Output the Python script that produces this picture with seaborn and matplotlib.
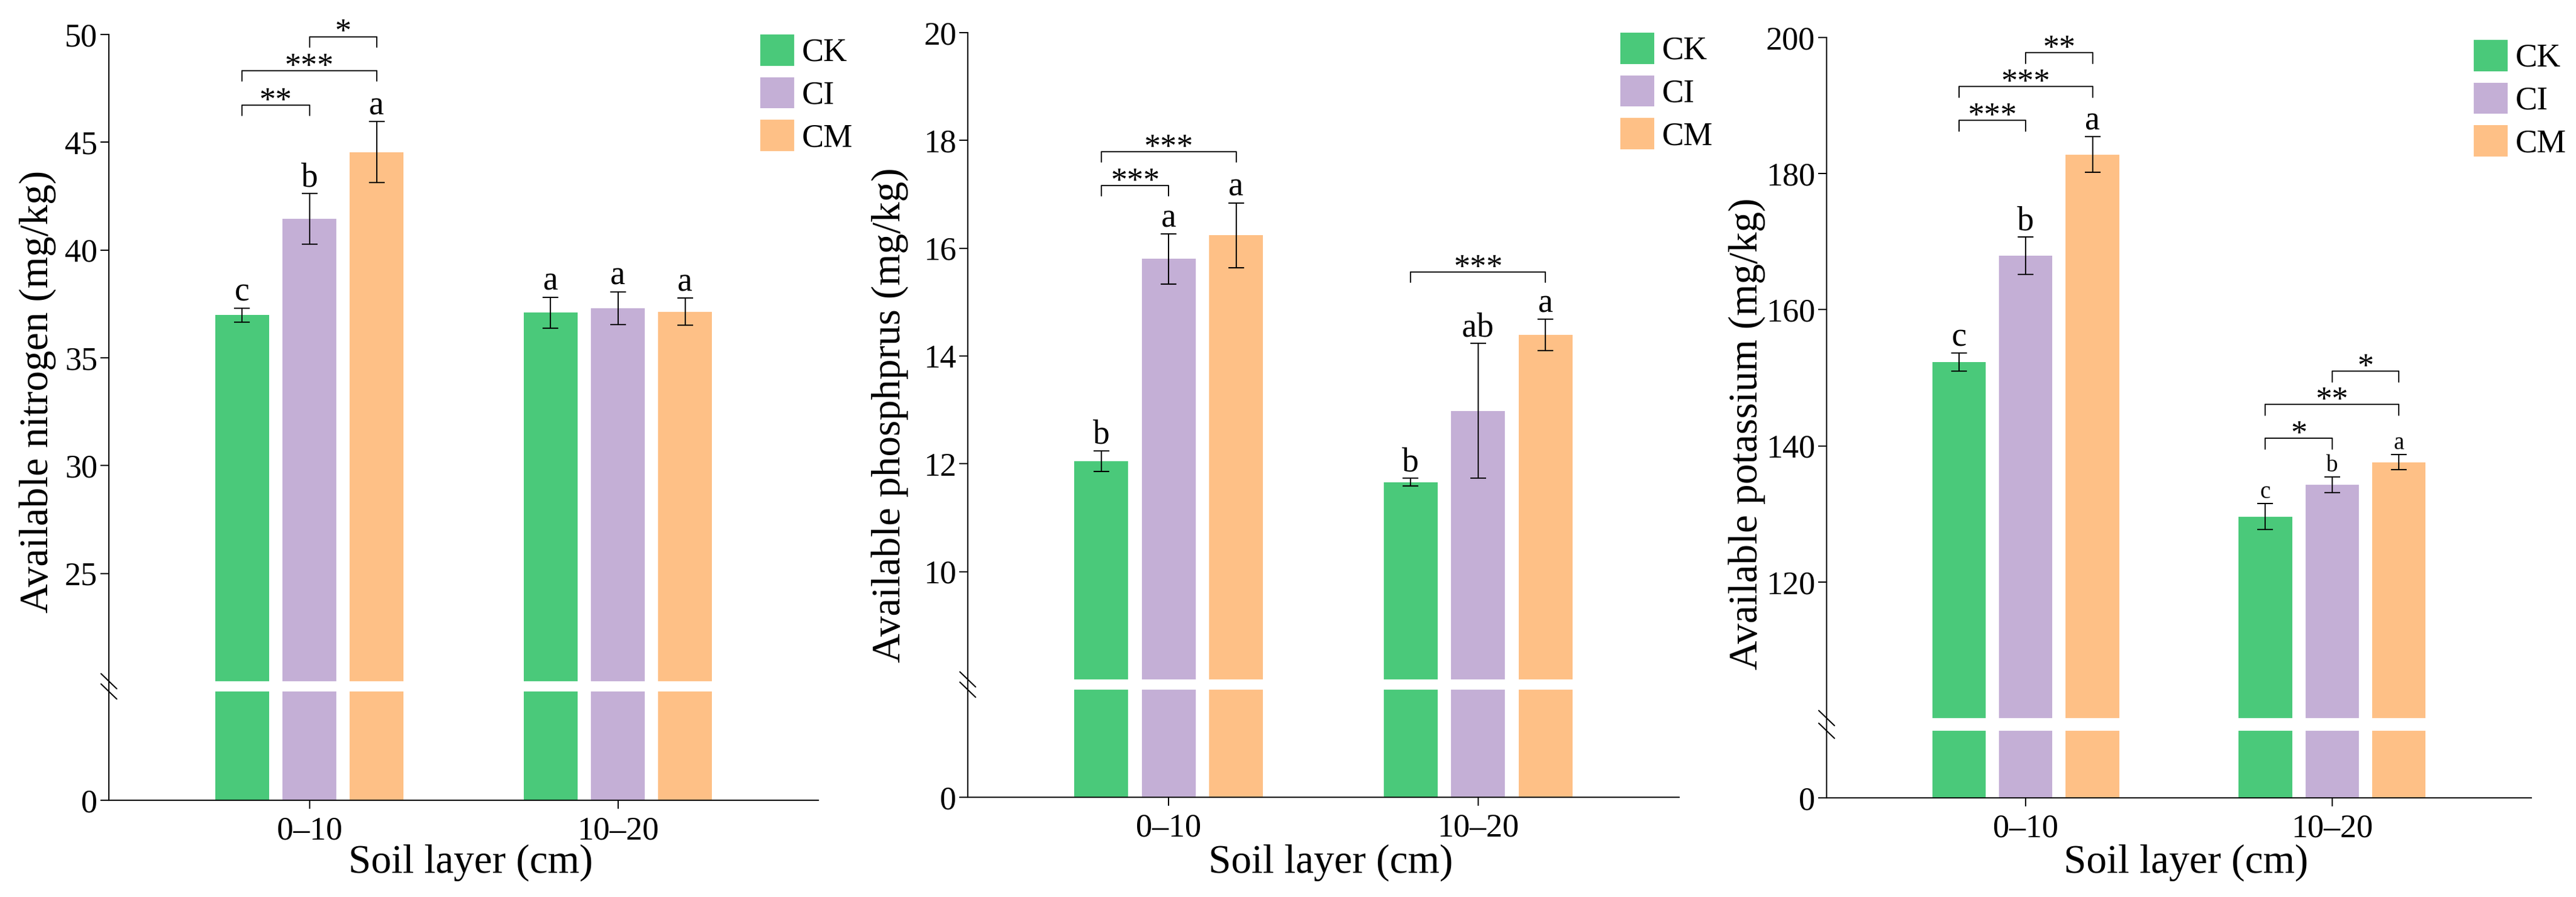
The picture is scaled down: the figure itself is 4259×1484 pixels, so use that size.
import numpy as np
import pandas as pd
import seaborn as sns
import matplotlib.pyplot as plt
from matplotlib.patches import Patch

# ---------------------------
# Global settings
# ---------------------------
sns.set_style("ticks")
plt.rcParams["font.family"] = ["Liberation Serif", "DejaVu Serif"]
plt.rcParams.update({
    "axes.edgecolor": "black", "axes.labelcolor": "black", "text.color": "black",
    "xtick.color": "black", "ytick.color": "black", "axes.linewidth": 1.5,
    "xtick.major.width": 1.5, "ytick.major.width": 1.5,
    "xtick.major.size": 10, "ytick.major.size": 10,
})

# ---------------------------
# Data
# ---------------------------
layers = ["0–10", "10–20"]
treatments = ["CK", "CI", "CM"]
colors = ["#4AC97A", "#C4AFD6", "#FEC086"]

# means / sd ordered: CK, CI, CM for 0–10 then CK, CI, CM for 10–20
n_mean = [36.98, 41.44, 44.54, 37.09, 37.30, 37.14]
n_sd = [0.33, 1.18, 1.42, 0.72, 0.77, 0.63]
n_letters = ["c", "b", "a", "a", "a", "a"]
n_brackets = [(0, 0, 1, 46.72, "**"), (0, 0, 2, 48.32, "***"), (0, 1, 2, 49.9, "*")]

p_mean = [12.05, 15.80, 16.24, 11.66, 12.98, 14.39]
p_sd = [0.19, 0.46, 0.60, 0.07, 1.25, 0.29]
p_letters = ["b", "a", "a", "b", "ab", "a"]
p_brackets = [(0, 0, 1, 17.16, "***"), (0, 0, 2, 17.79, "***"), (1, 0, 2, 15.56, "***")]

k_mean = [152.3, 167.9, 182.8, 129.6, 134.3, 137.6]
k_sd = [1.3, 2.75, 2.6, 1.9, 1.15, 1.1]
k_letters = ["c", "b", "a", "c", "b", "a"]
k_brackets = [(0, 0, 1, 187.8, "***"), (0, 0, 2, 192.8, "***"), (0, 1, 2, 197.75, "**"),
              (1, 0, 1, 141.1, "*"), (1, 0, 2, 146.1, "**"), (1, 1, 2, 151.0, "*")]

W, H = 4259, 1484
fig = plt.figure(figsize=(W / 100, H / 100), dpi=100)


def piecewise(xp, fp):
    xp = np.asarray(xp, float)
    fp = np.asarray(fp, float)

    def f(v):
        v = np.asarray(v, float)
        out = np.interp(v, xp, fp)
        out = np.where(v < xp[0], fp[0] + (v - xp[0]) * (fp[1] - fp[0]) / (xp[1] - xp[0]), out)
        out = np.where(v > xp[-1], fp[-1] + (v - xp[-1]) * (fp[-1] - fp[-2]) / (xp[-1] - xp[-2]), out)
        return out
    return f


def draw_panel(box, gap, hi_bot, top, yticks, mean, sd, letters, brackets, ylabel,
               ylab_pos, leg_xy, letter_sizes):
    left, right, ytop, ybot = box
    ax = fig.add_axes([left / W, 1 - ybot / H, (right - left) / W, (ybot - ytop) / H])

    df = pd.DataFrame({"layer": np.repeat(layers, 3), "treatment": treatments * 2, "value": mean})
    sns.barplot(data=df, x="layer", y="value", hue="treatment", order=layers,
                hue_order=treatments, palette=colors, saturation=1, width=0.654, gap=0.2,
                errorbar=None, legend=False, linewidth=0, ax=ax)
    xs = sorted(p.get_x() + p.get_width() / 2 for p in ax.patches)

    # broken axis via piecewise scale
    lo_val = hi_bot * 0.98
    data_pts = [0, lo_val, hi_bot, top]
    px_pts = [0, ybot - gap[1], ybot - gap[0], ybot - ytop]
    ax.set_yscale("function", functions=(piecewise(data_pts, px_pts), piecewise(px_pts, data_pts)))
    ax.set_ylim(0, top)
    ax.set_xlim(-0.65, 1.65)
    ax.axhspan(lo_val, hi_bot, color="white", zorder=2, lw=0)

    ax.errorbar(xs, mean, yerr=sd, fmt="none", ecolor="black", elinewidth=1.5,
                capsize=9.5, capthick=1.5, zorder=3)
    for x, m, s, lab, fs in zip(xs, mean, sd, letters, letter_sizes):
        ax.text(x, m + s, lab, ha="center", va="bottom", fontsize=fs)

    leg = 0.016 * (top - hi_bot)
    for g, i, j, y, lab in brackets:
        x1, x2 = xs[g * 3 + i], xs[g * 3 + j]
        ax.plot([x1, x1, x2, x2], [y - leg, y, y, y - leg], color="black", lw=1.4)
        ax.annotate(lab, xy=((x1 + x2) / 2, y), xytext=(0, -5.6), textcoords="offset points",
                    ha="center", va="baseline", fontsize=39)

    # break marks on the left spine
    aw, ah = right - left, ybot - ytop
    for gy in gap:
        yf = (ybot - gy) / ah
        ax.plot([-13 / aw, 13 / aw], [yf + 12.5 / ah, yf - 12.5 / ah], transform=ax.transAxes,
                color="black", lw=1.5, clip_on=False)

    sns.despine(ax=ax)
    ax.set_yticks(yticks)
    ax.set_yticklabels([str(t) for t in yticks])
    ax.yaxis.set_minor_locator(plt.NullLocator())
    ax.tick_params(axis="y", labelsize=39, pad=3.5)
    ax.tick_params(axis="x", labelsize=39, pad=9)
    ax.set_xlabel("Soil layer (cm)", fontsize=48.5)
    ax.xaxis.set_label_coords(0.51, -(1396 - ybot) / ah)
    ax.set_ylabel(ylabel, fontsize=48.5)
    ax.yaxis.set_label_coords(ylab_pos[0], ylab_pos[1])

    handles = [Patch(facecolor=c, edgecolor=c, linewidth=3.6, joinstyle="round", label=t)
               for c, t in zip(colors, treatments)]
    ax.legend(handles=handles, loc="upper left", bbox_to_anchor=(leg_xy[0] / W, 1 - leg_xy[1] / H),
              bbox_transform=fig.transFigure, frameon=False, fontsize=39,
              handlelength=0.944, handleheight=0.944, labelspacing=0.31,
              handletextpad=0.28, borderpad=0, borderaxespad=0)
    return ax


draw_panel((180, 1353, 57, 1324), (1127, 1144), 20, 50, [0, 25, 30, 35, 40, 45, 50],
           n_mean, n_sd, n_letters, n_brackets, "Available nitrogen (mg/kg)",
           ((93 - 180) / 1173, 0.534), (1259, 59), [40] * 6)
draw_panel((1600, 2776, 54, 1319), (1124, 1141), 8, 20, [0, 10, 12, 14, 16, 18, 20],
           p_mean, p_sd, p_letters, p_brackets, "Available phosphprus (mg/kg)",
           ((1502 - 1600) / 1176, 0.50), (2681, 56), [40] * 6)
draw_panel((3020, 4185, 62, 1320), (1188, 1209), 100, 200, [0, 120, 140, 160, 180, 200],
           k_mean, k_sd, k_letters, k_brackets, "Available potassium (mg/kg)",
           ((2919 - 3020) / 1165, 0.479), (4092, 68), [40, 40, 40, 28, 28, 28])

fig.savefig("out.png", dpi=100)
